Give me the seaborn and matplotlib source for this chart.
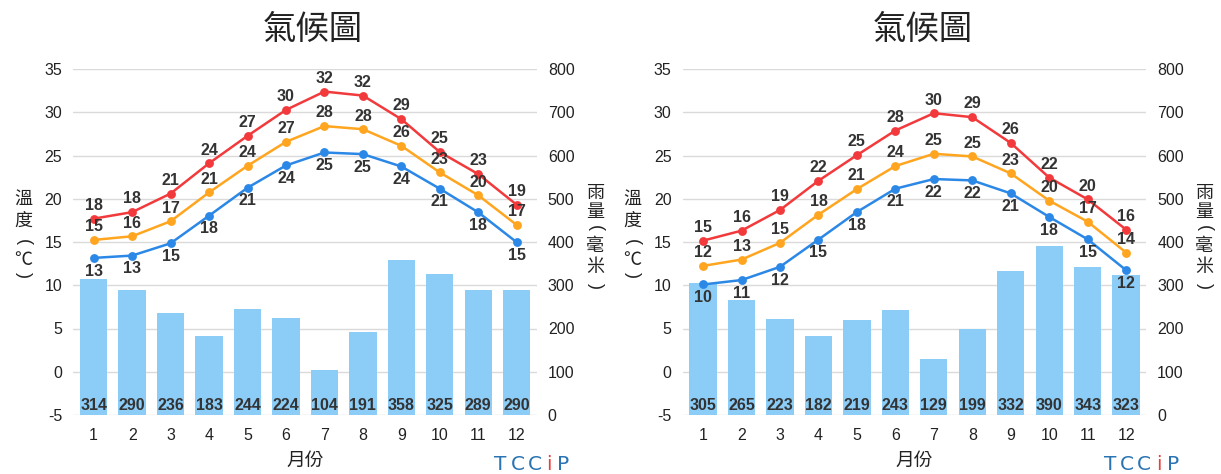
import numpy as np
import pandas as pd
import matplotlib
matplotlib.use("Agg")
import matplotlib.pyplot as plt
import seaborn as sns

# ---------------- data ----------------
months = [str(m) for m in range(1, 13)]

left_tmax = [17.7, 18.45, 20.6, 24.1, 27.27, 30.27, 32.39, 31.93, 29.2, 25.4, 22.85, 19.3]
left_tmean = [15.24, 15.66, 17.4, 20.73, 23.81, 26.58, 28.4, 28.04, 26.12, 23.04, 20.4, 16.97]
left_tmin = [13.16, 13.43, 14.85, 18.04, 21.27, 23.85, 25.35, 25.16, 23.73, 21.16, 18.43, 14.97]
left_rain = [314, 290, 236, 183, 244, 224, 104, 191, 358, 325, 289, 290]

right_tmax = [15.16, 16.31, 18.7, 22.08, 25.04, 27.89, 29.89, 29.43, 26.45, 22.45, 19.93, 16.43]
right_tmean = [12.24, 12.97, 14.9, 18.16, 21.12, 23.78, 25.2, 24.89, 22.93, 19.78, 17.35, 13.78]
right_tmin = [10.09, 10.6, 12.13, 15.28, 18.47, 21.16, 22.28, 22.12, 20.62, 17.9, 15.31, 11.74]
right_rain = [305, 265, 223, 182, 219, 243, 129, 199, 332, 390, 343, 323]

title_text = "氣候圖"
temp_label_chars = ["溫", "度", "(", "℃", ")"]
rain_label_chars = ["雨", "量", "(", "毫", "米", ")"]
xlabel_text = "月份"
logo_letters = ["T", "C", "C", "i", "P"]
temp_ticks = list(range(-5, 36, 5))
rain_ticks = list(range(0, 801, 100))

# ---------------- style ----------------
sns.set_theme(style="white")
plt.rcParams['font.family'] = ['Liberation Sans', 'Noto Sans CJK TC', 'DejaVu Sans']
plt.rcParams['axes.unicode_minus'] = False

RED = '#f23a3c'
ORANGE = '#ffa51f'
BLUE = '#2b88e6'
BAR = '#8ccdf8'
GRID = '#dadada'
TXT = '#222222'
LBL = '#333333'
LOGO_BLUE = '#2a74b4'
LOGO_RED = '#e5403b'

W, H = 1221, 474
fig = plt.figure(figsize=(W / 100, H / 100), dpi=100)


def vertical_label(chars, xc, ys):
    for ch, y in zip(chars, ys):
        if ch in "()":
            fig.text(xc / W, 1 - y / H, ch, ha='center', va='center', rotation=-90,
                     fontsize=13, color=TXT, family='Liberation Sans')
        else:
            fig.text(xc / W, 1 - y / H, ch, ha='center', va='center',
                     fontsize=13, color=TXT, family=['Noto Sans CJK TC', 'DejaVu Sans'])


def panel(x0, tmax, tmean, tmin, rain):
    ax = fig.add_axes([(73.3 + x0) / W, (H - 415) / H, 463.4 / W, 346 / H])
    df = pd.DataFrame({'month': months, 'rain': rain})
    sns.barplot(data=df, x='month', y='rain', ax=ax, color=BAR, saturation=1,
                width=0.71, edgecolor='none', linewidth=0, zorder=2)
    ax.set_ylim(rain_ticks[0], rain_ticks[-1])
    ax.set_yticks(rain_ticks)
    ax.grid(axis='y', color=GRID, lw=1.0)
    ax.grid(axis='x', visible=False)
    ax.set_axisbelow(True)
    for s in ax.spines.values():
        s.set_visible(False)
    ax.set_xlabel('')
    ax.set_ylabel('')
    for i, v in enumerate(rain):
        ax.annotate(f"{v}", (i, 0), xytext=(0, 7), textcoords='offset points',
                    ha='center', va='center', fontsize=11.5, fontweight='bold', color=LBL, zorder=3)

    ax2 = ax.twinx()
    ax.yaxis.tick_right()
    ax2.yaxis.tick_left()
    for s in ax2.spines.values():
        s.set_visible(False)
    for series, col, off in ((tmax, RED, 9.5), (tmean, ORANGE, 9.5), (tmin, BLUE, -9.5)):
        d = pd.DataFrame({'month': months, 't': series})
        sns.pointplot(data=d, x='month', y='t', ax=ax2, color=col, markers='o',
                      markersize=5, linewidth=1.8, errorbar=None)
        for i, v in enumerate(series):
            ax2.annotate(f"{round(v)}", (i, v), xytext=(0, off), textcoords='offset points',
                         ha='center', va='center', fontsize=11.5, fontweight='bold', color=LBL)
    ax2.set_ylim(temp_ticks[0], temp_ticks[-1])
    ax2.set_yticks(temp_ticks)
    ax2.set_xlabel('')
    ax2.set_ylabel('')
    ax2.grid(False)
    ax.set_xlim(-0.53, 11.52)
    ax2.set_xlim(-0.53, 11.52)

    ax.tick_params(axis='y', length=0, pad=8, labelsize=11.5, labelcolor=TXT)
    ax2.tick_params(axis='y', length=0, pad=8, labelsize=11.5, labelcolor=TXT)
    ax.tick_params(axis='x', length=0, pad=9, labelsize=11.5, labelcolor=TXT)

    fig.text((313 + x0) / W, 1 - 29 / H, title_text, ha='center', va='center',
             fontsize=24, color=TXT, family=['Noto Sans CJK TC', 'DejaVu Sans'])
    vertical_label(temp_label_chars, 23 + x0, [200, 221, 242.5, 260, 275])
    vertical_label(rain_label_chars, 595 + x0, [193, 212, 228, 246, 267, 286])
    fig.text((305 + x0) / W, 1 - 460 / H, xlabel_text, ha='center', va='center',
             fontsize=13.5, color=TXT, family=['Noto Sans CJK TC', 'DejaVu Sans'])
    # TCCIP logo text
    centers = [500.5, 517.5, 534.5, 549, 563.5]
    for ch, cx in zip(logo_letters, centers):
        fig.text((cx + x0) / W, 1 - 470 / H, ch, ha='center', va='baseline', fontsize=14.5,
                 family='DejaVu Sans', color=LOGO_RED if ch == 'i' else LOGO_BLUE)


panel(0, left_tmax, left_tmean, left_tmin, left_rain)
panel(609.4, right_tmax, right_tmean, right_tmin, right_rain)

fig.savefig("out.png", dpi=100, facecolor='white')
